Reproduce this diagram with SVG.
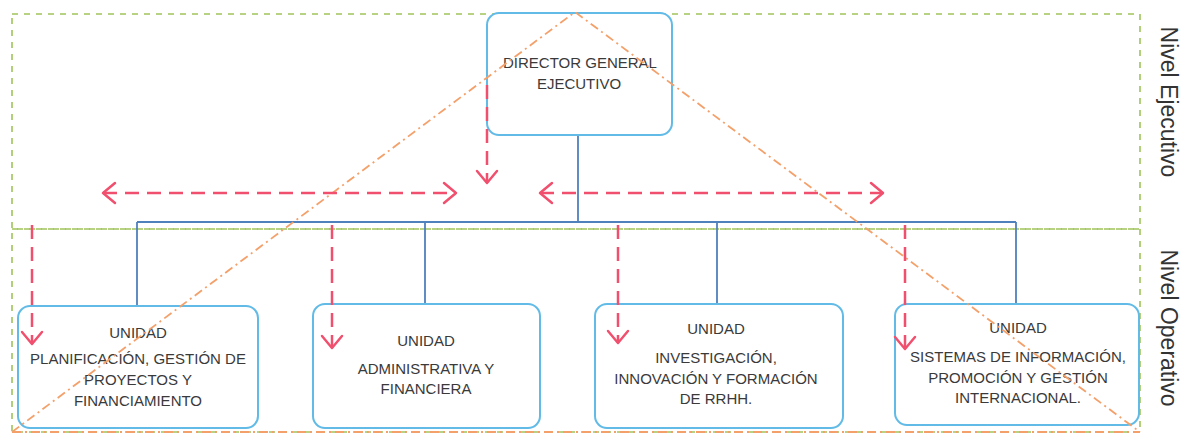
<svg xmlns="http://www.w3.org/2000/svg" width="1182" height="436" viewBox="0 0 1182 436">
<style>
  .lvl{fill:none;stroke:#9fc35a;stroke-width:1.6;stroke-dasharray:6 6}
  .tri{fill:none;stroke:#f4a06a;stroke-width:1.8;stroke-dasharray:9 4 2 4}
  .box{fill:#ffffff;stroke:#62bbe6;stroke-width:2}
  .conn{fill:none;stroke:#4f81bd;stroke-width:1.8}
  .flow{fill:none;stroke:#f0506e;stroke-width:2.5;stroke-dasharray:14 8}
  .t{font-family:"Liberation Sans",Arial,sans-serif;font-size:15px;fill:#3a3a3a;text-anchor:middle}
  .side{font-family:"Liberation Sans",Arial,sans-serif;font-size:23px;fill:#333333;text-anchor:middle}
</style>
<defs>
  <marker id="arr" markerUnits="userSpaceOnUse" markerWidth="20" markerHeight="26" refX="15" refY="12" orient="auto-start-reverse">
    <path d="M3,2 L15,12 L3,22" fill="none" stroke="#f0506e" stroke-width="2.5" stroke-dasharray="none" stroke-linecap="round" stroke-linejoin="round"/>
  </marker>
</defs>

<g id="levels">
  <rect class="lvl" x="12" y="14" width="1128" height="215"/>
  <rect class="lvl" x="12" y="229" width="1128" height="203"/>
</g>

<g id="connectors">
  <path class="conn" d="M578,135 V222 M137,222 H1016 M137,222 V306 M425,222 V304 M717,222 V304 M1016,222 V304"/>
</g>

<g id="director">
  <rect class="box" x="487" y="13" width="185" height="122" rx="12"/>
  <text class="t" x="580" y="68">DIRECTOR GENERAL</text>
  <text class="t" x="579" y="89">EJECUTIVO</text>
</g>

<g id="unidad-planificacion">
  <rect class="box" x="18" y="306" width="240" height="122" rx="12"/>
  <text class="t" x="138" y="338">UNIDAD</text>
  <text class="t" x="138" y="364">PLANIFICACIÓN, GESTIÓN DE</text>
  <text class="t" x="138" y="385">PROYECTOS Y</text>
  <text class="t" x="138" y="406">FINANCIAMIENTO</text>
</g>

<g id="unidad-administrativa">
  <rect class="box" x="313" y="304" width="227" height="124" rx="12"/>
  <text class="t" x="426" y="346">UNIDAD</text>
  <text class="t" x="426" y="374">ADMINISTRATIVA Y</text>
  <text class="t" x="426" y="394">FINANCIERA</text>
</g>

<g id="unidad-investigacion">
  <rect class="box" x="595" y="304" width="248" height="124" rx="12"/>
  <text class="t" x="716" y="334">UNIDAD</text>
  <text class="t" x="716" y="363">INVESTIGACIÓN,</text>
  <text class="t" x="716" y="384">INNOVACIÓN Y FORMACIÓN</text>
  <text class="t" x="716" y="404">DE RRHH.</text>
</g>

<g id="unidad-sistemas">
  <rect class="box" x="895" y="304" width="244" height="121" rx="12"/>
  <text class="t" x="1018" y="333">UNIDAD</text>
  <text class="t" x="1018" y="362">SISTEMAS DE INFORMACIÓN,</text>
  <text class="t" x="1018" y="383">PROMOCIÓN Y GESTIÓN</text>
  <text class="t" x="1018" y="403">INTERNACIONAL.</text>
</g>

<g id="pyramid">
  <polyline class="tri" points="12,432 575,12 1140,432"/>
  <line class="tri" x1="12" y1="432" x2="1140" y2="432"/>
</g>

<g id="flows">
  <line class="flow" x1="487" y1="85" x2="487" y2="183" marker-end="url(#arr)"/>
  <line class="flow" x1="103" y1="193" x2="456" y2="193" marker-start="url(#arr)" marker-end="url(#arr)"/>
  <line class="flow" x1="540" y1="193" x2="883" y2="193" marker-start="url(#arr)" marker-end="url(#arr)"/>
  <line class="flow" x1="32" y1="225" x2="32" y2="344" marker-end="url(#arr)"/>
  <line class="flow" x1="332" y1="225" x2="332" y2="348" marker-end="url(#arr)"/>
  <line class="flow" x1="618" y1="225" x2="618" y2="343" marker-end="url(#arr)"/>
  <line class="flow" x1="905" y1="225" x2="905" y2="349" marker-end="url(#arr)"/>
</g>

<g id="labels">
  <text class="side" transform="translate(1161,102) rotate(90)">Nivel Ejecutivo</text>
  <text class="side" transform="translate(1161,328) rotate(90)">Nivel Operativo</text>
</g>
</svg>
